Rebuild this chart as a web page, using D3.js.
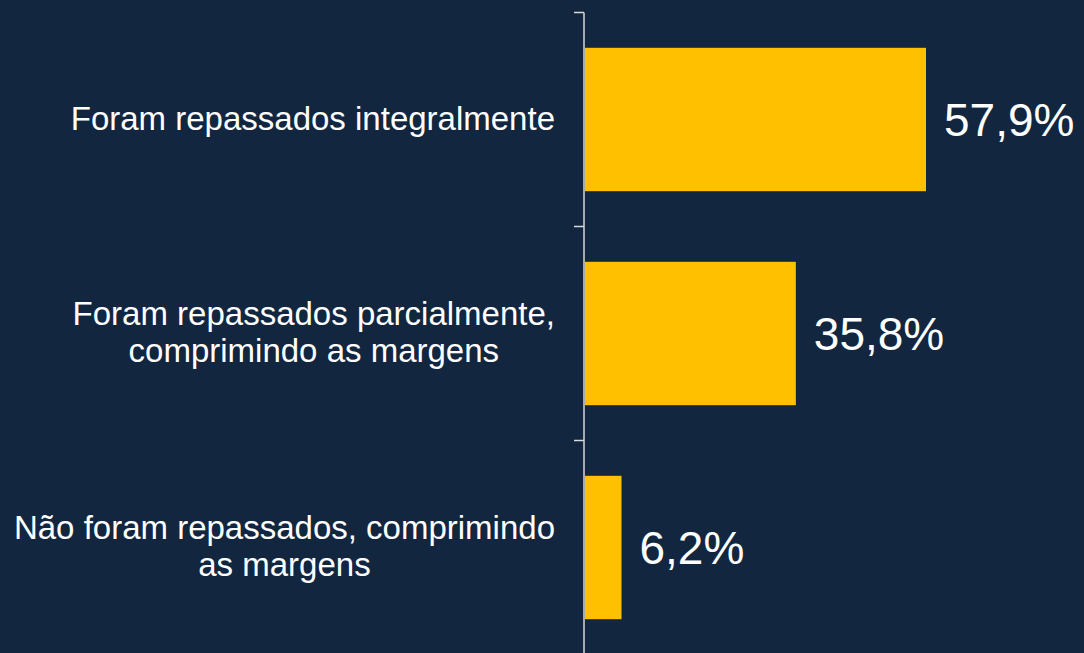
<!DOCTYPE html>
<html>
<head>
<meta charset="utf-8">
<script src="https://cdn.jsdelivr.net/npm/d3@7"></script>
<style>
  html, body { margin: 0; padding: 0; background: #12263F; }
  svg { display: block; }
</style>
</head>
<body>
<div id="wrapper"></div>
<script>
// dados
const categories = [
    ["Foram repassados integralmente"],
    ["Foram repassados parcialmente,", "comprimindo as margens"],
    ["Não foram repassados, comprimindo", "as margens"]
];
const values = [57.9, 35.8, 6.2];
const valueLabels = ["57,9%", "35,8%", "6,2%"];

function drawChart() {
    let dimension = {
        width: 1084,
        height: 653,
        axisX: 584,
        top: 12.5,
        bottom: 654.5
    };

    const wrapper = d3.select("#wrapper")
        .append("svg")
        .attr("width", dimension.width)
        .attr("height", dimension.height);

    wrapper.append("rect")
        .attr("width", dimension.width)
        .attr("height", dimension.height)
        .attr("fill", "#12263F");

    const idx = d3.range(values.length);

    const yScaler = d3.scaleBand()
        .domain(idx)
        .range([dimension.top, dimension.bottom])
        .paddingInner(0.33)
        .paddingOuter(0.165);

    const xScaler = d3.scaleLinear()
        .domain([0, d3.max(values)])
        .range([dimension.axisX + 1, 926]);

    // barras
    wrapper.append("g")
        .selectAll("rect")
        .data(idx)
        .enter()
        .append("rect")
        .attr("x", xScaler(0))
        .attr("y", i => yScaler(i))
        .attr("width", i => xScaler(values[i]) - xScaler(0))
        .attr("height", yScaler.bandwidth())
        .attr("fill", "#FFC000");

    // eixo
    const step = yScaler.step();
    const tickYs = idx.map(i => yScaler(i) - step * 0.165);
    wrapper.append("line")
        .attr("x1", dimension.axisX)
        .attr("x2", dimension.axisX)
        .attr("y1", dimension.top)
        .attr("y2", dimension.height)
        .attr("stroke", "#D9D9D9")
        .attr("stroke-width", 1.5);
    wrapper.append("g")
        .selectAll("line")
        .data(tickYs)
        .enter()
        .append("line")
        .attr("x1", dimension.axisX - 10)
        .attr("x2", dimension.axisX)
        .attr("y1", d => d)
        .attr("y2", d => d)
        .attr("stroke", "#D9D9D9")
        .attr("stroke-width", 1.5);

    // rótulos das categorias
    const lineH = 37.7;
    const labelRight = 555;
    idx.forEach(i => {
        const lines = categories[i];
        const cy = yScaler(i) + yScaler.bandwidth() / 2;
        const g = wrapper.append("g");
        const texts = g.selectAll("text")
            .data(lines)
            .enter()
            .append("text")
            .attr("y", (d, j) => cy + 10 + (j - (lines.length - 1) / 2) * lineH)
            .attr("fill", "white")
            .attr("font-family", "Liberation Sans, Arial, sans-serif")
            .attr("font-size", "33px")
            .attr("text-anchor", "middle")
            .text(d => d);
        const maxW = d3.max(texts.nodes(), n => n.getComputedTextLength());
        texts.attr("x", labelRight - maxW / 2);
    });

    // rótulos dos valores
    wrapper.append("g")
        .selectAll("text")
        .data(idx)
        .enter()
        .append("text")
        .attr("x", i => xScaler(values[i]) + 18)
        .attr("y", i => yScaler(i) + yScaler.bandwidth() / 2 + 16)
        .attr("fill", "white")
        .attr("font-family", "Liberation Sans, Arial, sans-serif")
        .attr("font-size", "46px")
        .text(i => valueLabels[i]);
}

drawChart();
</script>
</body>
</html>
